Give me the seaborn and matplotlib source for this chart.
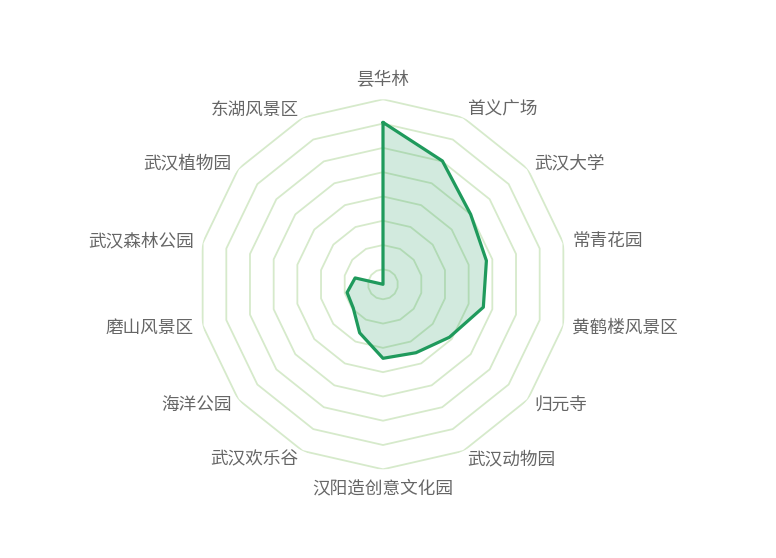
import numpy as np
import pandas as pd
import matplotlib
matplotlib.use("Agg")
import matplotlib.pyplot as plt
import seaborn as sns

categories = ["昙华林", "首义广场", "武汉大学", "常青花园", "黄鹤楼风景区", "归元寺",
              "武汉动物园", "汉阳造创意文化园", "武汉欢乐谷", "海洋公园", "磨山风景区",
              "武汉森林公园", "武汉植物园", "东湖风景区"]
values = [7.05, 6.02, 5.0, 4.75, 4.62, 3.88, 3.51, 3.43, 2.6, 1.95, 1.9, 1.56, 0.0, 0.0]
ring_values = [1, 2, 3, 4, 5, 6, 7, 8]
axis_min = 0.383   # value that sits at the centre
axis_max = 8

sns.set_theme(style="white")
plt.rcParams['font.family'] = ['Noto Sans CJK SC', 'DejaVu Sans']

W, H = 776, 558
fig = plt.figure(figsize=(W / 100, H / 100), dpi=100)
cx, cy, R = 383.0, 284.3, 185.0
rect = [(cx - R) / W, (H - cy - R) / H, 2 * R / W, 2 * R / H]
ax = fig.add_axes(rect, projection="polar")
ax.set_theta_zero_location("N")
ax.set_theta_direction(-1)
span = axis_max - axis_min
ax.set_ylim(0, span)
ax.grid(False)
ax.spines["polar"].set_visible(False)
ax.set_xticks([])
ax.set_yticks([])
ax.set_facecolor("none")

n = len(categories)
theta = np.linspace(0, 2 * np.pi, n, endpoint=False)
theta_c = np.append(theta, theta[0])

ring_color = "#d6eacb"
for rv in ring_values:
    rr = rv - axis_min
    ax.plot(theta_c, [rr] * (n + 1), color=ring_color, lw=1.3, zorder=1)

r = np.clip(np.array(values) - axis_min, 0, None)
df = pd.DataFrame({"theta": np.append(theta, theta[0]), "r": np.append(r, r[0])})
ax.fill(df["theta"], df["r"], color="#1f9a5c", alpha=0.2, lw=0, zorder=2)
sns.lineplot(data=df, x="theta", y="r", sort=False, ax=ax, color="#1f9a5c",
             lw=2.3, zorder=3, estimator=None)
ax.set_xlabel("")
ax.set_ylabel("")
ax.set_ylim(0, span)

px = span / R
for i, (t, lab) in enumerate(zip(theta, categories)):
    if i == 0 or i == n // 2:
        rl = 204 * px
        ha = "center"
    else:
        rl = 194 * px
        ha = "left" if i < n // 2 else "right"
    ax.text(t, rl, lab, ha=ha, va="center", fontsize=12.7, color="#666666",
            clip_on=False)

fig.savefig("out.png", dpi=100, facecolor="white")
